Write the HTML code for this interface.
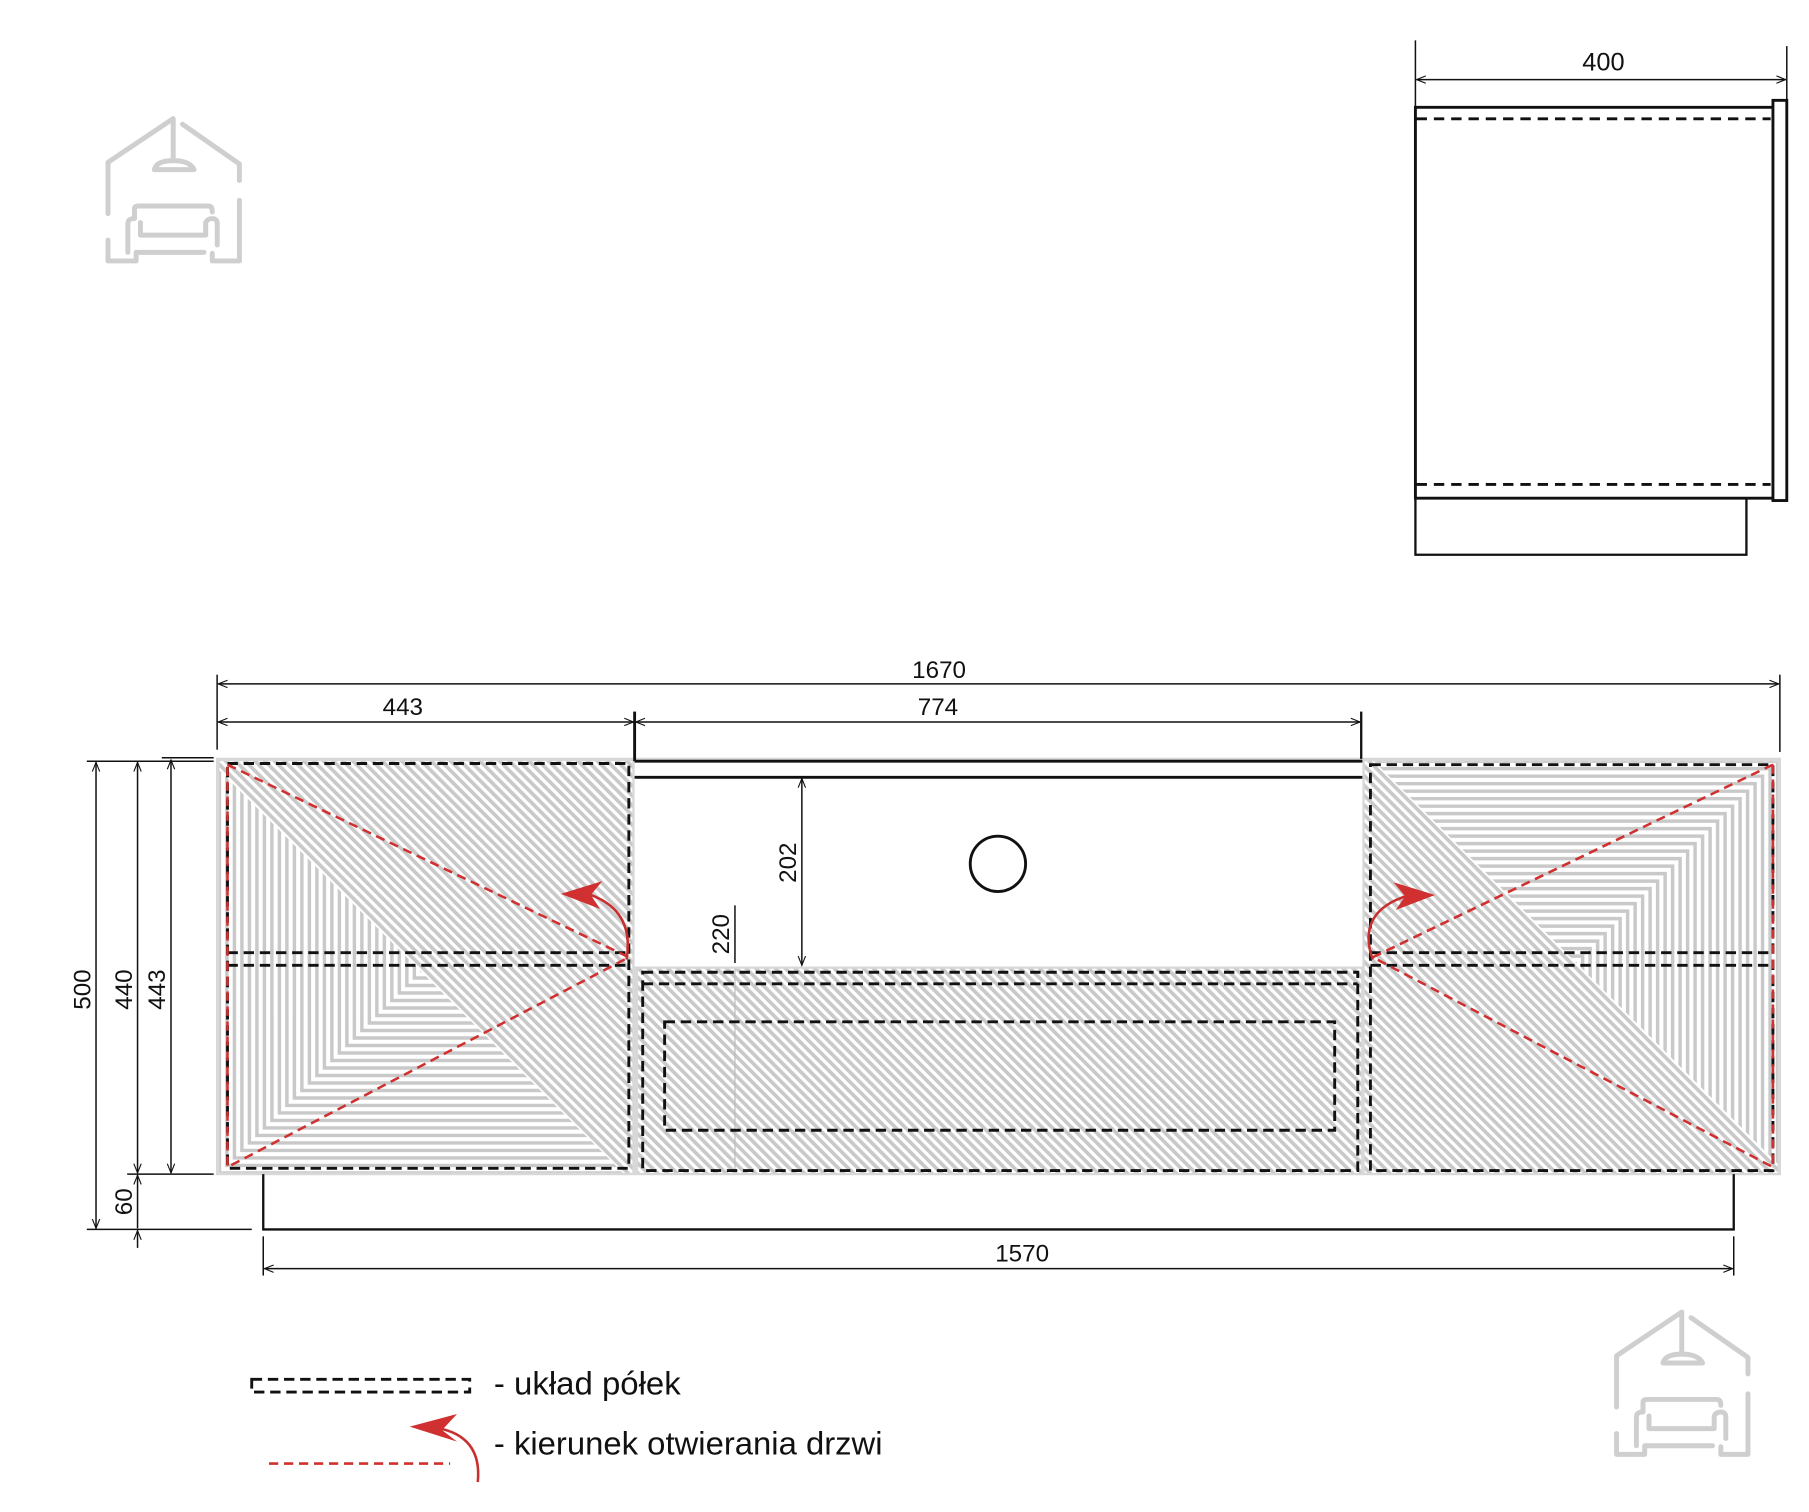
<!DOCTYPE html>
<html><head><meta charset="utf-8"><style>
html,body{margin:0;padding:0;background:#fff;}
svg{display:block;}
text{font-family:"Liberation Sans",sans-serif;fill:#111;}
</style></head><body>
<svg width="1809" height="1512" viewBox="0 0 1568 1311" xmlns="http://www.w3.org/2000/svg">
<defs>
<pattern id="st" patternUnits="userSpaceOnUse" width="6" height="6" patternTransform="rotate(-45)">
<rect width="6" height="6" fill="#fff"/>
<rect x="0" y="0" width="3.2" height="6" fill="#c9c9c9"/>
</pattern>
<marker id="ar" viewBox="0 0 10 10" refX="10" refY="5" markerWidth="12" markerHeight="8" orient="auto-start-reverse" markerUnits="userSpaceOnUse">
<path d="M0,1 L10,5 L0,9" fill="none" stroke="#111" stroke-width="1.2"/>
</marker>
<clipPath id="tri"><polygon points="190,668 190,1017 540,1017"/></clipPath>
<g id="logo" fill="none" stroke="#cfcfcf" stroke-width="15" stroke-linecap="round" stroke-linejoin="round">
<path d="M85,345 L85,190 L282,58 L282,185"/>
<path d="M310,75 L482,195 L482,245"/>
<path d="M225,212 Q232,185 282,185 Q332,185 345,212 Z"/>
<path d="M482,305 L482,488 L400,488 L400,465"/>
<path d="M85,425 L85,488 L170,488 L170,462 L375,462"/>
<path d="M145,462 L145,375 Q145,360 165,360 L165,330 Q165,322 178,322 L388,322 Q400,322 400,340"/>
<path d="M183,372 L183,410 L380,410 L380,372 Q385,360 400,360 Q415,360 415,375 L415,440"/>
</g>
<g id="ldoor">
<rect x="190" y="660" width="358" height="357" fill="url(#st)"/>
<g clip-path="url(#tri)"><rect x="190" y="660" width="358" height="357" fill="#fff"/>
<g id="ls" fill="none" stroke="#c9c9c9" stroke-width="3"></g></g>
</g>
</defs>

<use href="#logo" transform="translate(69,86.2) scale(0.287)"/>
<use href="#logo" transform="translate(1377,1121) scale(0.287)"/>

<g stroke="#111" fill="none">
<line x1="1227" y1="35" x2="1227" y2="93" stroke-width="1.3"/>
<line x1="1549" y1="40" x2="1549" y2="88" stroke-width="1.3"/>
<line x1="1228" y1="69" x2="1548" y2="69" stroke-width="1.3" marker-start="url(#ar)" marker-end="url(#ar)"/>
<polyline points="1537,93 1227,93 1227,432 1537,432" stroke-width="2.5"/>
<rect x="1537" y="87" width="12" height="347" stroke-width="2.5"/>
<line x1="1228" y1="103" x2="1535" y2="103" stroke-width="2.5" stroke-dasharray="9,6"/>
<line x1="1228" y1="420" x2="1535" y2="420" stroke-width="2.5" stroke-dasharray="9,6"/>
<polyline points="1227,432 1227,481 1514,481 1514,432" stroke-width="2"/>
</g>
<text x="1390" y="61" font-size="22" text-anchor="middle">400</text>

<rect x="187" y="657" width="1357" height="362" fill="#d8d8d8"/>
<use href="#ldoor"/>
<use href="#ldoor" transform="translate(1362,838.5) rotate(180) translate(-369,-838.5)"/>
<rect x="550" y="660" width="631" height="178" fill="#fff"/>
<rect x="553" y="840" width="627" height="177" fill="url(#st)"/>
<line x1="637" y1="840" x2="637" y2="1017" stroke="#bbb" stroke-width="1"/>

<g stroke="#111" fill="none">
<line x1="550" y1="660" x2="1181" y2="660" stroke-width="2.5"/>
<line x1="550" y1="674" x2="1181" y2="674" stroke-width="2.5"/>
<circle cx="865" cy="749" r="24" stroke-width="2.5"/>
<g stroke-width="2.5" stroke-dasharray="9,5">
<rect x="197" y="662" width="348" height="351"/>
<line x1="197" y1="826" x2="545" y2="826"/><line x1="197" y1="837" x2="545" y2="837"/>
<rect x="557" y="843" width="620" height="172"/>
<line x1="557" y1="853" x2="1177" y2="853"/>
<rect x="576" y="886" width="581" height="94"/>
<rect x="1188" y="663" width="349" height="352"/>
<line x1="1188" y1="826" x2="1537" y2="826"/><line x1="1188" y1="837" x2="1537" y2="837"/>
</g>
<polyline points="228,1018 228,1066 1503,1066 1503,1018" stroke-width="2"/>
<g stroke-width="1.3">
<line x1="188" y1="585" x2="188" y2="650"/>
<line x1="550" y1="617" x2="550" y2="660" stroke-width="2.5"/>
<line x1="1180" y1="617" x2="1180" y2="658" stroke-width="2"/>
<line x1="1543" y1="585" x2="1543" y2="652"/>
<line x1="189" y1="593" x2="1542" y2="593" marker-start="url(#ar)" marker-end="url(#ar)"/>
<line x1="189" y1="626" x2="549" y2="626" marker-start="url(#ar)" marker-end="url(#ar)"/>
<line x1="551" y1="626" x2="1179" y2="626" marker-start="url(#ar)" marker-end="url(#ar)"/>
<line x1="228" y1="1072" x2="228" y2="1106"/>
<line x1="1503" y1="1072" x2="1503" y2="1106"/>
<line x1="229" y1="1100" x2="1502" y2="1100" marker-start="url(#ar)" marker-end="url(#ar)"/>
<line x1="75" y1="660" x2="185" y2="660"/>
<line x1="140" y1="657" x2="185" y2="657"/>
<line x1="110" y1="1018" x2="185" y2="1018"/>
<line x1="75" y1="1066" x2="218" y2="1066"/>
<line x1="83" y1="661" x2="83" y2="1065" marker-start="url(#ar)" marker-end="url(#ar)"/>
<line x1="119" y1="661" x2="119" y2="1017" marker-start="url(#ar)" marker-end="url(#ar)"/>
<line x1="148" y1="659" x2="148" y2="1017" marker-start="url(#ar)" marker-end="url(#ar)"/>
<line x1="119" y1="1019" x2="119" y2="1065" marker-start="url(#ar)"/>
<line x1="119" y1="1067" x2="119" y2="1082" marker-start="url(#ar)"/>
<line x1="695" y1="675" x2="695" y2="837" marker-start="url(#ar)" marker-end="url(#ar)"/>
<line x1="637" y1="785" x2="637" y2="835"/>
</g>
</g>
<g font-size="21">
<text x="814" y="588" text-anchor="middle">1670</text>
<text x="349" y="620" text-anchor="middle">443</text>
<text x="813" y="620" text-anchor="middle">774</text>
<text x="886" y="1094" text-anchor="middle">1570</text>
<text transform="translate(78,858) rotate(-90)" text-anchor="middle">500</text>
<text transform="translate(114,858) rotate(-90)" text-anchor="middle">440</text>
<text transform="translate(143,858) rotate(-90)" text-anchor="middle">443</text>
<text transform="translate(114,1042) rotate(-90)" text-anchor="middle">60</text>
<text transform="translate(690,748) rotate(-90)" text-anchor="middle">202</text>
<text transform="translate(632,810) rotate(-90)" text-anchor="middle">220</text>
</g>

<g stroke="#d03030" stroke-width="2.2" fill="none" stroke-dasharray="8,5">
<polyline points="197,663 545,830 197,1012 197,663"/>
<polyline points="1537,663 1190,830 1537,1012 1537,663"/>
<line x1="233" y1="1269" x2="390" y2="1269"/>
</g>
<g stroke="#c83030" stroke-width="2.2" fill="none">
<path d="M543,832 Q550,790 512,776"/>
<path d="M1190,832 Q1175,790 1222,776"/>
<path d="M414,1285 Q418,1245 378,1238"/>
</g>
<g fill="#d03030">
<polygon points="486,775 522,764 512,776 520,788"/>
<polygon points="1244,776 1208,765 1218,777 1210,789"/>
<polygon points="355,1237 396,1226 383,1240 396,1250"/>
</g>

<rect x="218" y="1196" width="189" height="11" fill="none" stroke="#111" stroke-width="2.5" stroke-dasharray="9,5"/>
<text x="428" y="1209" font-size="28" textLength="162" lengthAdjust="spacingAndGlyphs">- układ półek</text>
<text x="428" y="1261" font-size="28" textLength="337" lengthAdjust="spacingAndGlyphs">- kierunek otwierania drzwi</text>
</svg>
<script>
var g=document.getElementById('ls'),s='';
for(var d=0;d<360;d+=6.5){s+='<polyline points="'+(190+d)+',660 '+(190+d)+','+(1017-d)+' 548,'+(1017-d)+'"/>';}
g.innerHTML=s;
</script>
</body></html>
